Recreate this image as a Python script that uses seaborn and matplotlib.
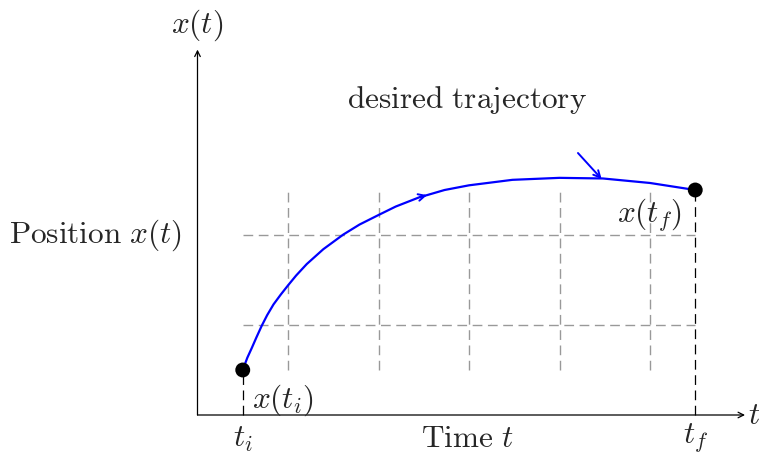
import matplotlib
matplotlib.use("Agg")
import matplotlib.pyplot as plt
import seaborn as sns
import pandas as pd

sns.set_style("white")
plt.rcParams["mathtext.fontset"] = "cm"
plt.rcParams["lines.scale_dashes"] = False

# Trajectory samples (time, position)
curve_t = [0.5, 0.55, 0.6, 0.65, 0.709, 0.77, 0.84, 0.92, 1.0, 1.09, 1.207, 1.39,
           1.611, 1.79, 2.0, 2.19, 2.459, 2.536, 2.73, 3.0, 3.48, 4.0, 4.48, 5.0,
           5.5]
curve_x = [0.5, 0.635, 0.745, 0.86, 0.99, 1.11, 1.229, 1.338, 1.44, 1.55, 1.677,
           1.842, 2.005, 2.116, 2.222, 2.316, 2.422, 2.443, 2.50, 2.552, 2.613,
           2.635, 2.628, 2.578, 2.5]

# Boundary conditions
t_i, t_f = 0.5, 5.5
x_i, x_f = 0.5, 2.5

# Reference grid
grid_t = [1, 2, 3, 4, 5]
grid_x = [1, 2]

# Axis extents
t_axis_end = 6.05
x_axis_end = 4.06

fig = plt.figure(figsize=(7.59, 4.54), dpi=100)
ax = fig.add_axes([0, 0, 1, 1])
ax.set_xlim(-197.5 / 90.5, 561.5 / 90.5)
ax.set_ylim(-39 / 90, 415 / 90)
ax.axis("off")

grey = "#999999"
dash = (0, (7, 4))

for g in grid_t:
    ax.plot([g, g], [x_i, x_f], color=grey, lw=1.0, ls=dash, zorder=1)
for g in grid_x:
    ax.plot([t_i, t_f], [g, g], color=grey, lw=1.0, ls=dash, zorder=1)

ax.plot([t_i, t_i], [0, x_i], color="black", lw=0.9, ls=dash, zorder=1)
ax.plot([t_f, t_f], [0, x_f], color="black", lw=0.9, ls=dash, zorder=1)

# Axes with arrowheads
arrow_kw = dict(arrowstyle="->", color="black", lw=0.9, shrinkA=0, shrinkB=0,
                mutation_scale=10)
ax.annotate("", xy=(t_axis_end, 0), xytext=(0, 0), arrowprops=arrow_kw)
ax.annotate("", xy=(0, x_axis_end), xytext=(0, 0), arrowprops=arrow_kw)

# Trajectory
df = pd.DataFrame({"t": curve_t, "x": curve_x})
sns.lineplot(data=df, x="t", y="x", sort=False, color="blue", lw=1.6, ax=ax,
             zorder=3)

# Direction marker along the curve
ax.annotate("", xy=(curve_t[17], curve_x[17]), xytext=(curve_t[16], curve_x[16]),
            arrowprops=dict(arrowstyle="->", color="blue", lw=1.4, shrinkA=0,
                            shrinkB=0, mutation_scale=12), zorder=3)

# Pointer arrow to the curve
ax.annotate("", xy=(4.466, 2.622), xytext=(4.204, 2.911),
            arrowprops=dict(arrowstyle="->", color="blue", lw=1.4, shrinkA=0,
                            shrinkB=0, mutation_scale=12), zorder=3)

# Endpoints
pts = pd.DataFrame({"t": [t_i, t_f], "x": [x_i, x_f]})
sns.scatterplot(data=pts, x="t", y="x", color="black", s=115, edgecolor="none",
                ax=ax, zorder=4)
ax.set_xlabel("")
ax.set_ylabel("")

fs = 22.5
ax.text(0, 4.333, r"$x(t)$", ha="center", va="center", fontsize=fs)
ax.text(6.08, 0, r"$t$", ha="left", va="center", fontsize=fs)
ax.text(t_i, -0.265, r"$t_i$", ha="center", va="center", fontsize=fs)
ax.text(t_f, -0.265, r"$t_f$", ha="center", va="center", fontsize=fs)
ax.text(2.978, -0.265, r"$\mathrm{Time}\ t$", ha="center", va="center",
        fontsize=fs)
ax.text(-0.171, 2.0, r"$\mathrm{Position}\ x(t)$", ha="right", va="center",
        fontsize=fs)
ax.text(0.602, 0.167, r"$x(t_i)$", ha="left", va="center", fontsize=fs)
ax.text(5.354, 2.22, r"$x(t_f)$", ha="right", va="center", fontsize=fs)
ax.text(2.978, 3.5, r"$\mathrm{desired\ trajectory}$", ha="center", va="center",
        fontsize=fs)

fig.savefig("out.png", dpi=100)
